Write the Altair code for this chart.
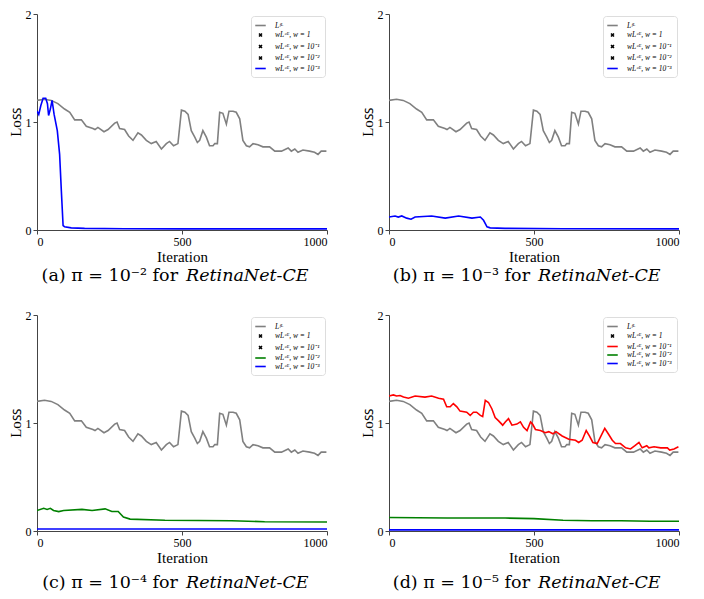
import altair as alt
import pandas as pd

# ---------------- data ----------------
SERIES = ["Lᶠᴸ", "wLᶜᴱ, w = 1", "wLᶜᴱ, w = 10⁻¹", "wLᶜᴱ, w = 10⁻²", "wLᶜᴱ, w = 10⁻³"]

fl_iter = [0, 26, 49, 72, 95, 113, 130, 153, 170, 193, 200, 210, 231, 245, 268, 276, 285, 302, 316, 331,
           348, 360, 377, 394, 411, 429, 446, 457, 471, 486, 498, 510, 521, 532, 544, 553, 561, 572, 584, 595,
           607, 613, 622, 630, 641, 653, 662, 676, 687, 699, 710, 722, 733, 745, 762, 779, 802, 820, 843, 866,
           877, 889, 900, 917, 940, 957, 969, 980, 998]
fl_loss = [1.20, 1.21, 1.20, 1.17, 1.12, 1.09, 1.02, 1.02, 0.96, 0.94, 0.93, 0.95, 0.91, 0.93, 0.99, 1.00, 0.94, 0.93, 0.87, 0.83,
           0.90, 0.88, 0.83, 0.80, 0.82, 0.75, 0.80, 0.82, 0.78, 0.80, 1.11, 1.10, 1.07, 0.92, 0.86, 0.81, 0.83, 0.92, 0.86, 0.78,
           0.78, 0.80, 0.80, 1.09, 1.08, 0.98, 1.10, 1.10, 1.09, 1.03, 0.83, 0.78, 0.77, 0.80, 0.79, 0.77, 0.77, 0.73, 0.73, 0.76,
           0.73, 0.75, 0.72, 0.74, 0.73, 0.72, 0.70, 0.73, 0.73]

a_blue_iter = [0, 6, 13, 21, 30, 36, 40, 46, 52, 59, 70, 78, 84, 90, 95, 118, 164, 300, 500, 700, 1000]
a_blue_loss = [1.10, 1.07, 1.15, 1.22, 1.22, 1.17, 1.06, 1.12, 1.20, 1.07, 0.92, 0.70, 0.36, 0.04, 0.03, 0.02, 0.015, 0.012, 0.01, 0.01, 0.01]

b_blue_iter = [0, 21, 32, 44, 61, 76, 90, 147, 194, 240, 286, 315, 326, 338, 349, 400, 600, 1000]
b_blue_loss = [0.12, 0.13, 0.12, 0.13, 0.11, 0.10, 0.12, 0.13, 0.11, 0.13, 0.11, 0.12, 0.09, 0.03, 0.02, 0.015, 0.012, 0.01]

c_green_iter = [0, 23, 35, 46, 57, 75, 92, 155, 190, 235, 258, 280, 298, 321, 441, 671, 785, 1000]
c_green_loss = [0.19, 0.21, 0.20, 0.21, 0.19, 0.18, 0.19, 0.20, 0.19, 0.205, 0.18, 0.18, 0.13, 0.11, 0.10, 0.095, 0.086, 0.083]
c_blue_iter = [0, 1000]
c_blue_loss = [0.018, 0.018]

d_red_iter = [0, 15, 26, 38, 50, 67, 90, 124, 147, 171, 188, 199, 211, 222, 234, 245, 268, 280, 291, 302,
              315, 323, 332, 343, 355, 366, 378, 392, 401, 412, 424, 441, 453, 464, 476, 488, 495, 505, 522, 539,
              551, 565, 576, 597, 620, 643, 654, 666, 680, 691, 703, 718, 729, 744, 756, 770, 781, 798, 816, 833,
              848, 862, 873, 889, 896, 914, 937, 960, 968, 983, 998]
d_red_loss = [1.25, 1.26, 1.25, 1.255, 1.24, 1.23, 1.25, 1.24, 1.25, 1.23, 1.22, 1.15, 1.15, 1.18, 1.15, 1.11, 1.10, 1.07, 1.10, 1.10,
              1.07, 1.06, 1.21, 1.19, 1.13, 1.05, 1.02, 0.98, 1.01, 1.04, 0.98, 0.99, 1.01, 0.96, 0.93, 1.01, 0.99, 0.94, 0.93, 0.91,
              0.92, 0.90, 0.92, 0.88, 0.85, 0.84, 0.82, 0.84, 0.93, 0.88, 0.82, 0.81, 0.87, 0.95, 0.90, 0.84, 0.81, 0.81, 0.77, 0.76,
              0.79, 0.82, 0.77, 0.79, 0.77, 0.78, 0.77, 0.77, 0.75, 0.76, 0.78]
d_green_iter = [0, 200, 400, 500, 600, 700, 800, 900, 1000]
d_green_loss = [0.125, 0.12, 0.12, 0.115, 0.10, 0.095, 0.095, 0.09, 0.09]
d_blue_iter = [0, 1000]
d_blue_loss = [0.01, 0.01]

CAP_LEFT = ["(a) π = 10⁻² for", "(b) π = 10⁻³ for", "(c) π = 10⁻⁴ for", "(d) π = 10⁻⁵ for"]
CAP_RIGHT = "RetinaNet-CE"

X_TICKS = [0, 500, 1000]
Y_TICKS = [0, 1, 2]

# ---------------- style ----------------
GRAY = "#808080"
BLUE = "#0000ff"
GREEN = "#008000"
RED = "#ff0000"
BLACK = "#000000"
LINE = "M-1.5,0L1.5,0"
XMARK = "M-0.42,-0.42L0.42,0.42M-0.42,0.42L0.42,-0.42"
FONT = "Liberation Serif"
CAPFONT = "DejaVu Serif"
W, H = 290, 216

LEG = alt.Legend(title=None, orient="top-right", offset=2, symbolSize=49, symbolStrokeWidth=1.8,
                 symbolOpacity=1, labelOffset=10, rowPadding=0.5, padding=5)


def panel(lines, kinds, cap_left, cap_y, widths=None):
    rows = []
    for name, (it, ls) in lines.items():
        for i, l in zip(it, ls):
            rows.append({"iter": i, "loss": l, "series": name})
    df = pd.DataFrame(rows)
    colors = [GRAY if s == SERIES[0] else (kinds[s] if kinds[s] != "x" else BLACK) for s in SERIES]
    shapes = [XMARK if kinds[s] == "x" else LINE for s in SERIES]
    sw = widths or [1.6] * 5

    xs = alt.X("iter:Q", scale=alt.Scale(domain=[0, 1000], nice=False),
               axis=alt.Axis(values=X_TICKS, title="Iteration", labelOverlap=False,
                             labelExpr="format(datum.value, '.0f')"))
    ys = alt.Y("loss:Q", scale=alt.Scale(domain=[0, 2], nice=False),
               axis=alt.Axis(values=Y_TICKS, title="Lᴏꜱꜱ", labelOverlap=False,
                             labelExpr="format(datum.value, '.0f')"))
    cscale = alt.Scale(domain=SERIES, range=colors)

    lines_layer = alt.Chart(df).mark_line(clip=True).encode(
        x=xs, y=ys,
        color=alt.Color("series:N", scale=cscale, legend=LEG),
        strokeWidth=alt.StrokeWidth("series:N", scale=alt.Scale(domain=SERIES, range=sw), legend=None),
        detail="series:N",
    )
    legend_layer = alt.Chart(df).mark_point(
        filled=False, strokeWidth=1.8, size=49, opacity=0
    ).encode(
        x=xs, y=ys,
        color=alt.Color("series:N", scale=cscale, legend=LEG),
        shape=alt.Shape("series:N", scale=alt.Scale(domain=SERIES, range=shapes), legend=LEG),
    )
    cap_df = pd.DataFrame({"l": [cap_left], "r": [CAP_RIGHT]})
    cap1 = alt.Chart(cap_df).mark_text(font=CAPFONT, fontSize=17.5, align="right", baseline="alphabetic",
                                       color="#000").encode(
        x=alt.value(141), y=alt.value(cap_y), text="l:N")
    cap2 = alt.Chart(cap_df).mark_text(font=CAPFONT, fontSize=17.5, fontStyle="italic", align="left",
                                       baseline="alphabetic", color="#000").encode(
        x=alt.value(149), y=alt.value(cap_y), text="r:N")
    return alt.layer(legend_layer, lines_layer, cap1, cap2).properties(width=W, height=H)


pa = panel({SERIES[0]: (fl_iter, fl_loss), SERIES[4]: (a_blue_iter, a_blue_loss)},
           {SERIES[0]: GRAY, SERIES[1]: "x", SERIES[2]: "x", SERIES[3]: "x", SERIES[4]: BLUE}, CAP_LEFT[0], 267)
pb = panel({SERIES[0]: (fl_iter, fl_loss), SERIES[4]: (b_blue_iter, b_blue_loss)},
           {SERIES[0]: GRAY, SERIES[1]: "x", SERIES[2]: "x", SERIES[3]: "x", SERIES[4]: BLUE}, CAP_LEFT[1], 267)
pc = panel({SERIES[0]: (fl_iter, fl_loss), SERIES[3]: (c_green_iter, c_green_loss),
            SERIES[4]: (c_blue_iter, c_blue_loss)},
           {SERIES[0]: GRAY, SERIES[1]: "x", SERIES[2]: "x", SERIES[3]: GREEN, SERIES[4]: BLUE}, CAP_LEFT[2], 273)
pd_ = panel({SERIES[0]: (fl_iter, fl_loss), SERIES[2]: (d_red_iter, d_red_loss),
             SERIES[3]: (d_green_iter, d_green_loss), SERIES[4]: (d_blue_iter, d_blue_loss)},
            {SERIES[0]: GRAY, SERIES[1]: "x", SERIES[2]: RED, SERIES[3]: GREEN, SERIES[4]: BLUE}, CAP_LEFT[3], 273,
            widths=[1.6, 1.6, 1.6, 1.6, 2.6])

RES = dict(color="independent", shape="independent", strokeWidth="independent")
top = alt.hconcat(pa, pb, spacing=27).resolve_scale(**RES)
bottom = alt.hconcat(pc, pd_, spacing=27).resolve_scale(**RES)
chart = alt.vconcat(top, bottom, spacing=24).resolve_scale(**RES).configure_view(
    stroke=None
).configure_axis(
    grid=False, domainColor="#444", tickColor="#444", domainWidth=1, tickSize=4,
    labelFont=FONT, labelFontSize=12, labelColor="#000", labelPadding=2,
    titleFont=FONT, titleFontSize=15, titleFontWeight="normal", titleColor="#000", titlePadding=2,
).configure_axisX(labelAngle=0).configure_legend(
    labelFont=FONT, labelFontSize=7.5, labelFontStyle="italic", labelColor="#000",
    fillColor="#ffffff", strokeColor="#dddddd", cornerRadius=3,
).properties(padding={"left": 0, "top": 0, "right": 0, "bottom": 0}, background="white")

chart.save("out.html", embed_options={"renderer": "svg", "actions": False})
